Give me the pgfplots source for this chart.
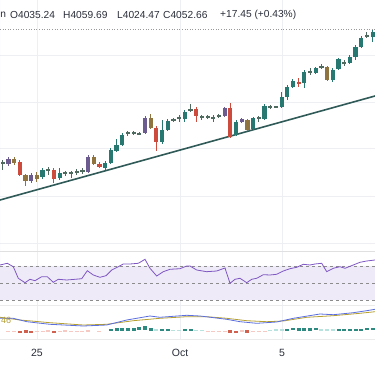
\documentclass[border=0pt]{standalone}
\usepackage{fontspec}
\setmainfont{Liberation Sans}
\usepackage{pgfplots}
\usepackage{pgfplotstable}
\pgfplotsset{compat=1.18}
\definecolor{cUp}{HTML}{277870}
\definecolor{cDn}{HTML}{CC4B3C}
\definecolor{cPu}{HTML}{6B5B8E}
\definecolor{cOl}{HTML}{8F7440}
\definecolor{cDo}{HTML}{4F6A5E}
\definecolor{cTrend}{HTML}{2F5A57}
\definecolor{cRsi}{HTML}{7E57C2}
\definecolor{cBand}{HTML}{EFEAF8}
\definecolor{cMacd}{HTML}{5B6EE0}
\definecolor{cSig}{HTML}{B5A032}
\definecolor{cGrid}{HTML}{EDEFF3}
\definecolor{cTxt}{HTML}{2A2E39}
\definecolor{cHUp}{HTML}{2E8A80}
\definecolor{cHUpL}{HTML}{B8E2DD}
\definecolor{cHDn}{HTML}{D0614F}
\definecolor{cHDnL}{HTML}{F6C9C3}

% candles: x, body top/bottom (screen y), wick high/low (screen y)
\pgfplotstableread{
x top bot hi lo
42.5 170 177 168 179
59.6 173 178 168 180
105.1 163 168 161 170
110.8 150 163 148 164
116.5 145 151 139 152
122.2 135 145 133 146
162.0 130 142 120 144
167.7 121 130 119 131
184.8 112 119 110 122
236.0 122 135 120 136
253.1 118 129 117 130
264.5 106 119 104 120
281.6 97 107 92 108
287.2 87 97 85 100
292.9 81 87 79 88
304.3 72 83 70 88
315.7 68 73 67 74
332.8 70 80 68 82
338.5 59 69 58 70
349.8 57 63 55 64
355.5 47 57 45 60
361.2 38 47 36 48
372.6 32 37 30 42
}\tUp
\pgfplotstableread{
x top bot hi lo
19.8 162 175 160 176
53.9 170 179 168 183
99.4 164 167 162 168
156.3 128 142 126 151
196.2 109 116 107 122
230.3 108 137 103 138
298.6 82 83.5 78 87
}\tDn
\pgfplotstableread{
x top bot hi lo
8.4 159 164 157 166
31.1 175 181 173 183
88.1 157 172 155 173
145.0 118 133 116 134
224.6 108 116 107 117
241.7 119 122 118 123
}\tPu
\pgfplotstableread{
x top bot hi lo
14.1 159 163 157 165
25.5 175 181 174 186
36.8 175 179 172 182
93.7 157 164 155 165
150.6 118 128 114 129
247.4 120 130 119 131
327.1 67 80 66 81
}\tOl
\pgfplotstableread{
x top bot hi lo
2.7 162.5 163.7 160 170
48.2 169.5 170.7 167 175
65.3 172.5 173.7 171 176
71.0 172.5 173.7 171 178
76.7 171.5 172.7 169 175
82.4 170.5 171.7 168 174
127.9 132.5 133.7 131 136
133.6 132.5 133.7 131 135
139.3 133 134.3 132 135
173.4 119 121 118 122
179.1 117.5 118.7 115 122
190.5 109.5 110.7 104 112
201.9 116.5 117.7 115 120
207.6 116.5 117.7 115 119
213.3 117.5 118.7 115 122
218.9 115.5 116.7 114 118
258.8 117.5 118.7 116 122
270.2 106.5 107.7 105 109
275.9 106.5 107.7 106 108
310.0 71.5 72.7 68 75
321.4 66.5 67.7 64 69
344.1 62.5 63.7 60 66
366.9 35.5 36.7 32 38
}\tDo

% MACD histogram: x, bar top/bottom (screen y)
\pgfplotstableread{
x top bot
110.8 328.5 330.5
116.5 328 330.5
122.2 328 330.5
127.9 327.5 330.5
133.6 327.5 330.5
139.3 327 330.5
145.0 326.5 330.5
150.6 328 330.5
162.0 329.3 330.5
167.7 329.3 330.5
184.8 329.3 330.5
190.5 329.3 330.5
287.2 328.5 330.5
292.9 328.3 330.5
298.6 328 330.5
304.3 328 330.5
310.0 328 330.5
315.7 327.8 330.5
338.5 329 330.5
344.1 329.5 330.5
349.8 328.8 330.5
355.5 328.5 330.5
361.2 328.5 330.5
366.9 328.3 330.5
372.6 328.3 330.5
}\tHUp
\pgfplotstableread{
x top bot
156.3 329.5 330.5
173.4 329.6 330.5
179.1 329.6 330.5
196.2 329.6 330.5
201.9 329.6 330.5
270.2 329.6 330.5
275.9 329.5 330.5
281.6 329.3 330.5
321.4 329.3 330.5
327.1 329.3 330.5
332.8 329.5 330.5
}\tHUpL
\pgfplotstableread{
x top bot
19.8 330.5 332.8
25.5 330.5 333
31.1 330.5 332.8
53.9 330.5 333.2
230.3 330.5 333
236.0 330.5 333.2
247.4 330.5 333
}\tHDn
\pgfplotstableread{
x top bot
8.4 330.5 331.5
14.1 330.5 332
36.8 330.5 332
42.5 330.5 331.8
48.2 330.5 331.6
59.6 330.5 332
65.3 330.5 331.6
71.0 330.5 331.5
76.7 330.5 331.5
82.4 330.5 331.4
88.1 330.5 331.3
99.4 330.5 331.5
207.6 330.5 331.5
213.3 330.5 331.8
218.9 330.5 332
224.6 330.5 332.4
241.7 330.5 332.2
253.1 330.5 332
258.8 330.5 331.8
264.5 330.5 331.5
}\tHDnL

\newcommand{\candles}[2]{%
 \addplot[draw=none, mark=none, forget plot,
   error bars/.cd, y dir=both, y explicit, error mark=none,
   error bar style={line width=0.9pt, draw=#2}]
   table[x=x, y expr={(\thisrow{hi}+\thisrow{lo})/2}, y error expr={(\thisrow{lo}-\thisrow{hi})/2}] {#1};
 \addplot[draw=none, mark=none, forget plot,
   error bars/.cd, y dir=both, y explicit, error mark=none,
   error bar style={line width=4.2pt, draw=#2}]
   table[x=x, y expr={(\thisrow{top}+\thisrow{bot})/2}, y error expr={(\thisrow{bot}-\thisrow{top})/2}] {#1};
}
\newcommand{\hbars}[2]{%
 \addplot[draw=none, mark=none, forget plot,
   error bars/.cd, y dir=both, y explicit, error mark=none,
   error bar style={line width=4.0pt, draw=#2}]
   table[x=x, y expr={(\thisrow{top}+\thisrow{bot})/2}, y error expr={(\thisrow{bot}-\thisrow{top})/2}] {#1};
}

\begin{document}
\begin{tikzpicture}
\useasboundingbox (0,0) rectangle (375pt,366pt);
\clip (0,0) rectangle (375pt,366pt);
\begin{axis}[width=375pt, height=366pt, scale only axis,
  xmin=0, xmax=375, ymin=0, ymax=366, y dir=reverse,
  axis lines=none, ticks=none, clip=false]

% grid lines
\addplot[cGrid, line width=0.8pt, forget plot] coordinates {(37,0) (37,340)};
\addplot[cGrid, line width=0.8pt, forget plot] coordinates {(180,0) (180,340)};
\addplot[cGrid, line width=0.8pt, forget plot] coordinates {(282,0) (282,340)};
\addplot[cGrid, line width=0.7pt, forget plot] coordinates {(0,55) (375,55)};
\addplot[cGrid, line width=0.7pt, forget plot] coordinates {(0,102) (375,102)};
\addplot[cGrid, line width=0.7pt, forget plot] coordinates {(0,148) (375,148)};
\addplot[cGrid, line width=0.7pt, forget plot] coordinates {(0,196) (375,196)};
\addplot[cGrid, line width=0.8pt, forget plot] coordinates {(0,243) (375,243)};
\addplot[black!12, line width=0.8pt, forget plot] coordinates {(0,251) (375,251)};
\addplot[black!8, line width=0.8pt, forget plot] coordinates {(0,305) (375,305)};
\addplot[black!8, line width=0.8pt, forget plot] coordinates {(0,339) (375,339)};

% RSI band
\addplot[fill=cBand, draw=none, forget plot] coordinates {(0,266) (375,266) (375,300) (0,300)} \closedcycle;
\addplot[black!45, dashed, line width=0.5pt, forget plot] coordinates {(0,266) (375,266)};
\addplot[black!45, dashed, line width=0.5pt, forget plot] coordinates {(0,283) (375,283)};
\addplot[black!45, dashed, line width=0.5pt, forget plot] coordinates {(0,300) (375,300)};

% price line (dotted)
\addplot[black!40, dotted, line width=0.6pt, forget plot] coordinates {(0,29) (375,29)};

% trend line
\addplot[cTrend, line width=1.6pt, forget plot] coordinates {(0,200) (375,96)};

% candles
\candles{\tDo}{cDo}
\candles{\tUp}{cUp}
\candles{\tDn}{cDn}
\candles{\tPu}{cPu}
\candles{\tOl}{cOl}

% RSI
\addplot[cRsi, line width=0.8pt, forget plot] coordinates {
(0,265) (7.3,263.3) (13.3,266.7) (18.3,278.3) (25,282.7) (30,279.3) (35,280.7)
(41.7,276.7) (47.3,276.7) (53.3,282.3) (58.3,279.3) (66.7,280) (75,279.3)
(81.7,278.7) (87.3,270.7) (93.3,275) (100,277.3) (106,275.7) (111.7,270)
(118.3,266.7) (123.3,264) (130,264) (138.3,263.3) (145,259.3) (150,268.3)
(156.7,276) (163.3,271.7) (170,269.3) (180,268.7) (186.7,266) (190,266)
(196.7,270) (206.7,271.7) (216.7,271) (225,268) (230,283.3) (235,279.3)
(240,278.3) (246.7,282.7) (251.7,279.3) (256.7,278.3) (263.3,274.7) (270,275)
(276.7,274.3) (283.3,271) (290,268.7) (296.7,267.3) (303.3,264.3) (310,265)
(315,264) (321.7,263.3) (326.7,271.7) (333.3,268.3) (340,266.7) (345,268.3)
(353.3,265) (360,262.3) (366.7,261) (375,260)};

% MACD histogram
\hbars{\tHUpL}{cHUpL}
\hbars{\tHDnL}{cHDnL}
\hbars{\tHUp}{cHUp}
\hbars{\tHDn}{cHDn}

% MACD & signal
\addplot[cSig, line width=0.8pt, forget plot] coordinates {
(0,317.3) (20,320) (50,322.7) (83.3,325) (106.7,324.3) (133.3,320.7) (160,318.3)
(186.7,316.7) (206.7,316.7) (226.7,318.3) (246.7,320.7) (266.7,321.7) (283.3,321)
(306.7,317.3) (333.3,315.7) (360,313.3) (375,311.7)};
\addplot[cMacd, line width=0.8pt, forget plot] coordinates {
(0,318.3) (13.3,318.3) (26.7,321.7) (50,324.3) (83.3,326) (106.7,325) (126.7,320)
(150,316) (160,317.3) (186.7,315.3) (200,316) (226.7,319.3) (240,321.7)
(256.7,323.3) (276.7,322) (293.3,318.3) (320,314) (333.3,314.7) (353.3,312.7)
(366.7,310.7) (375,309.3)};

% header
\node[anchor=west, text=cTxt, font=\fontsize{10.2}{12}\selectfont, inner sep=0] at (axis cs:0.3,14.5) {n};
\node[anchor=west, text=cTxt, font=\fontsize{10.2}{12}\selectfont, inner sep=0] at (axis cs:10,14.5) {O4035.24};
\node[anchor=west, text=cTxt, font=\fontsize{10.2}{12}\selectfont, inner sep=0] at (axis cs:63,14.5) {H4059.69};
\node[anchor=west, text=cTxt, font=\fontsize{10.2}{12}\selectfont, inner sep=0] at (axis cs:117,14.5) {L4024.47};
\node[anchor=west, text=cTxt, font=\fontsize{10.2}{12}\selectfont, inner sep=0] at (axis cs:163,14.5) {C4052.66};
\node[anchor=west, text=cTxt, font=\fontsize{10.2}{12}\selectfont, inner sep=0] at (axis cs:220,14.5) {+17.45 (+0.43\%)};

% MACD value label
\node[anchor=west, text=cSig, font=\fontsize{9}{10}\selectfont, inner sep=0] at (axis cs:1,320.5) {46};

% time axis labels
\node[text=cTxt, font=\fontsize{10.5}{12}\selectfont, inner sep=0] at (axis cs:37,353) {25};
\node[text=cTxt, font=\fontsize{10.5}{12}\selectfont, inner sep=0] at (axis cs:180,353) {Oct};
\node[text=cTxt, font=\fontsize{10.5}{12}\selectfont, inner sep=0] at (axis cs:282,353) {5};
\end{axis}
\end{tikzpicture}
\end{document}
